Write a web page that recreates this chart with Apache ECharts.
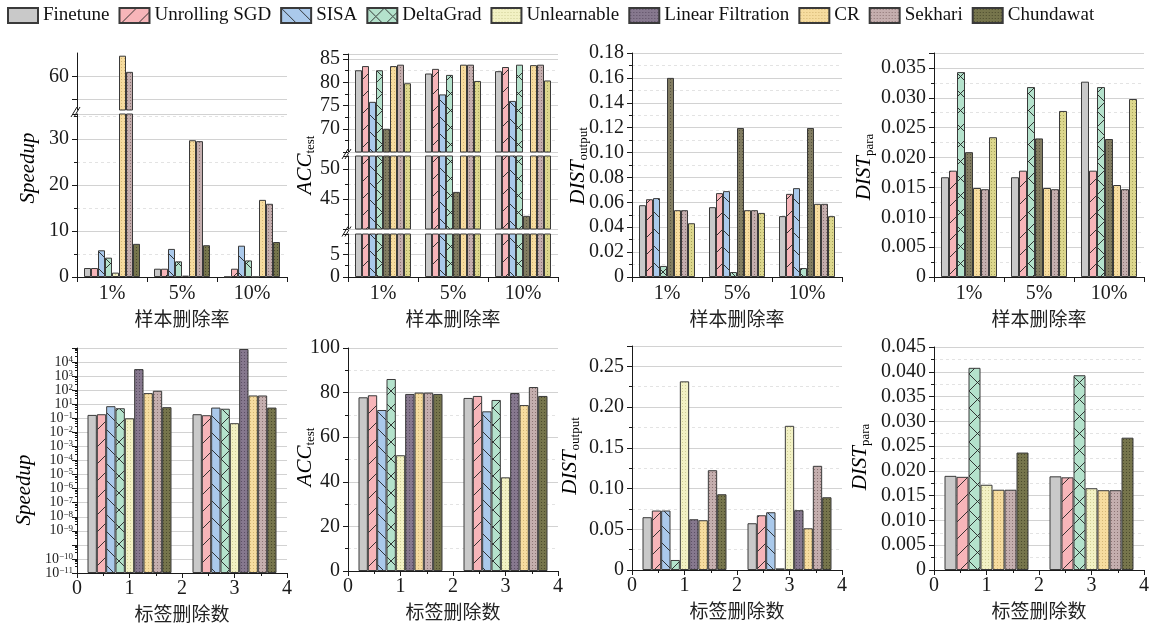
<!DOCTYPE html>
<html><head><meta charset="utf-8">
<script src="https://cdn.jsdelivr.net/npm/echarts@6.0.0/dist/echarts.min.js"></script>
<style>html,body{margin:0;padding:0;background:#fff}#c{width:1158px;height:627px}</style>
</head><body><div id="c"></div>
<script>
// ---------------- DATA ----------------
const LEGEND_NAMES = ['Finetune','Unrolling SGD','SISA','DeltaGrad','Unlearnable','Linear Filtration','CR','Sekhari','Chundawat'];
const SAMPLE_RATES = ['1%','5%','10%'];
const LABEL_COUNTS = ['1','3'];
const LABEL_AXIS_TICKS = [0,1,2,3,4];
// log-axis labels by exponent -11..5 as printed in the figure
const LOG_TICK_EXPONENTS = ['-11','-10','','-9','-8','-7','-6','-5','-4','-3','-2','-1','1','2','3','4',''];

// Speedup vs sample deletion rate
const speedupSampleSeries = ['Finetune','Unrolling SGD','SISA','DeltaGrad','Unlearnable','CR','Sekhari','Chundawat'];
const speedupSampleValues = [
  [1.95, 1.8, 0.05],
  [1.95, 1.8, 1.8],
  [5.8, 6.1, 6.8],
  [4.2, 3.4, 3.6],
  [0.95, 0.3, 0.05],
  [64.6, 29.7, 16.75],
  [61.0, 29.5, 15.9],
  [7.2, 6.9, 7.6]
];
// ACC_test vs sample deletion rate
const accSampleSeries = ['Finetune','Unrolling SGD','SISA','DeltaGrad','Unlearnable','CR','Sekhari','Chundawat'];
const accSampleValues = [
  [82.6, 81.9, 82.4],
  [83.5, 82.9, 83.3],
  [75.8, 77.4, 76.0],
  [82.6, 81.6, 83.8],
  [70.0, 46.2, 42.2],
  [83.5, 83.8, 83.7],
  [83.8, 83.8, 83.8],
  [79.8, 80.3, 80.4]
];
// DIST_output vs sample deletion rate
const distOutSampleSeries = ['Finetune','Unrolling SGD','SISA','DeltaGrad','Unlearnable','CR','Sekhari','Chundawat'];
const distOutSampleValues = [
  [0.0577, 0.0561, 0.0489],
  [0.0625, 0.0674, 0.0668],
  [0.0634, 0.0690, 0.0714],
  [0.0089, 0.0040, 0.0072],
  [0.1600, 0.1197, 0.1197],
  [0.0537, 0.0537, 0.0588],
  [0.0537, 0.0537, 0.0588],
  [0.0432, 0.0515, 0.0489]
];
// DIST_para vs sample deletion rate
const distParaSampleSeries = ['Finetune','Unrolling SGD','DeltaGrad','Unlearnable','CR','Sekhari','Chundawat'];
const distParaSampleValues = [
  [0.0167, 0.0167, 0.0327],
  [0.0178, 0.0178, 0.0178],
  [0.0343, 0.0318, 0.0318],
  [0.0209, 0.0232, 0.0231],
  [0.0149, 0.0149, 0.0154],
  [0.0147, 0.0147, 0.0147],
  [0.0234, 0.0278, 0.0298]
];
// Speedup vs label deletion count (log)
const speedupLabelSeries = ['Finetune','Unrolling SGD','SISA','DeltaGrad','Unlearnable','Linear Filtration','CR','Sekhari','Chundawat'];
const speedupLabelValues = [
  [1.75, 1.95],
  [1.95, 1.66],
  [7.3, 5.8],
  [5.2, 4.8],
  [1.0, 0.45],
  [3150, 85000],
  [62, 42],
  [91, 42],
  [6.2, 5.8]
];
// ACC_test vs label deletion count
const accLabelSeries = ['Finetune','Unrolling SGD','SISA','DeltaGrad','Unlearnable','Linear Filtration','CR','Sekhari','Chundawat'];
const accLabelValues = [
  [77.9, 77.6],
  [78.8, 78.5],
  [72.2, 71.6],
  [86.1, 76.7],
  [51.9, 42.0],
  [79.4, 79.8],
  [80.0, 74.4],
  [80.0, 82.5],
  [79.4, 78.5]
];
// DIST_output vs label deletion count
const distOutLabelSeries = ['Finetune','Unrolling SGD','SISA','DeltaGrad','Unlearnable','Linear Filtration','CR','Sekhari','Chundawat'];
const distOutLabelValues = [
  [0.0648, 0.0574],
  [0.0730, 0.0672],
  [0.0730, 0.0709],
  [0.0123, 0.0020],
  [0.2316, 0.1770],
  [0.0623, 0.0734],
  [0.0611, 0.0512],
  [0.1225, 0.1279],
  [0.0930, 0.0893]
];
// DIST_para vs label deletion count
const distParaLabelSeries = ['Finetune','Unrolling SGD','DeltaGrad','Unlearnable','CR','Sekhari','Chundawat'];
const distParaLabelValues = [
  [0.0190, 0.0189],
  [0.0188, 0.0187],
  [0.0408, 0.0393],
  [0.0172, 0.0165],
  [0.0162, 0.0161],
  [0.0162, 0.0161],
  [0.0237, 0.0267]
];

// ---------------- STYLES ----------------
const SERIF = "'Liberation Serif', serif";
const CJK = "'Noto Sans CJK SC', sans-serif";
const INK = '#1a1a1a';
const STYLE = {
  'Finetune':          {bg:'#c9c9c9', kind:'solid'},
  'Unrolling SGD':     {bg:'#f7b5b9', kind:'fwd'},
  'SISA':              {bg:'#aac9eb', kind:'back'},
  'DeltaGrad':         {bg:'#b4e2cc', kind:'cross'},
  'Unlearnable':       {bg:'#f2f1c4', kind:'dots', dot:'#cfcd96'},
  'Linear Filtration': {bg:'#86788e', kind:'dots', dot:'#5c4e64'},
  'CR':                {bg:'#f6dc9f', kind:'dots', dot:'#d3b573'},
  'Sekhari':           {bg:'#c4aeae', kind:'dots', dot:'#8c7373'},
  'Chundawat':         {bg:'#76754c', kind:'dots', dot:'#4b4a2c'},
  'altDark':           {bg:'#817c61', kind:'dots', dot:'#58543e'},
  'altYellow':         {bg:'#dcd78d', kind:'dots', dot:'#a9a45d'}
};
function makeFill(st) {
  if (st.kind === 'solid') return st.bg;
  const s = st.kind === 'dots' ? 3 : 17;
  const c = document.createElement('canvas'); c.width = s; c.height = s;
  const g = c.getContext('2d');
  g.fillStyle = st.bg; g.fillRect(0, 0, s, s);
  g.strokeStyle = '#222'; g.lineWidth = 0.9;
  const line = (x1, y1, x2, y2) => { g.beginPath(); g.moveTo(x1, y1); g.lineTo(x2, y2); g.stroke(); };
  if (st.kind === 'fwd' || st.kind === 'cross') { line(-2, s + 2, s + 2, -2); line(-2, 2, 2, -2); line(s - 2, s + 2, s + 2, s - 2); }
  if (st.kind === 'back' || st.kind === 'cross') { line(-2, -2, s + 2, s + 2); line(s - 2, -2, s + 2, 2); line(-2, s - 2, 2, s + 2); }
  if (st.kind === 'dots') { g.fillStyle = st.dot; g.fillRect(1, 1, 1, 1); }
  return { image: c, repeat: 'repeat' };
}
const FILL = {};
Object.keys(STYLE).forEach(k => FILL[k] = makeFill(STYLE[k]));

const fmtFixed = d => v => (v === 0 ? '0' : v.toFixed(d));
const logFmt = v => {
  const e = Math.round(Math.log10(v));
  const t = LOG_TICK_EXPONENTS[e + 11];
  return t ? '{b|10}{p|' + t.replace('-', '\u2212') + '}' : '';
};

// ---------------- PANELS (layout) ----------------
const PANELS = [
  { left:77, width:210, cats:SAMPLE_RATES, names:speedupSampleSeries, values:speedupSampleValues, xName:'样本删除率',
    segs:[ {top:114, height:163, min:0, max:35.4, interval:10, hideMax:true},
           {top:53, height:57, min:52.5, max:65.2, interval:2.5, labels:[60], ticks:[55,60], minor:false} ],
    breaks:[112] },
  { left:348, width:210, cats:SAMPLE_RATES, names:accSampleSeries, values:accSampleValues, xName:'样本删除率',
    styles:['Finetune','Unrolling SGD','SISA','DeltaGrad','altDark','CR','Sekhari','altYellow'],
    segs:[ {top:234, height:43, min:0, max:9.5, interval:5, hideMax:true},
           {top:156, height:73, min:40, max:52.2, interval:5, hideMin:true, hideMax:true},
           {top:54, height:98, min:65, max:86.1, interval:5, hideMin:true, hideMax:true} ],
    breaks:[154, 231.5] },
  { left:632, width:210, cats:SAMPLE_RATES, names:distOutSampleSeries, values:distOutSampleValues, xName:'样本删除率',
    styles:['Finetune','Unrolling SGD','SISA','DeltaGrad','altDark','CR','Sekhari','altYellow'],
    segs:[ {top:53, height:224, min:0, max:0.18, interval:0.02, fmt:fmtFixed(2)} ] },
  { left:934, width:210, cats:SAMPLE_RATES, names:distParaSampleSeries, values:distParaSampleValues, xName:'样本删除率',
    styles:['Finetune','Unrolling SGD','DeltaGrad','altDark','CR','Sekhari','altYellow'],
    segs:[ {top:53, height:224, min:0, max:0.0375, interval:0.005, fmt:fmtFixed(3), hideMax:true} ] },
  { left:77, width:210, cats:LABEL_COUNTS, names:speedupLabelSeries, values:speedupLabelValues, xName:'标签删除数', valueX:true,
    segs:[ {top:348, height:225, min:1e-11, max:1e5, log:true} ] },
  { left:348, width:210, cats:LABEL_COUNTS, names:accLabelSeries, values:accLabelValues, xName:'标签删除数', valueX:true,
    segs:[ {top:348, height:223, min:0, max:100, interval:20} ] },
  { left:632, width:210, cats:LABEL_COUNTS, names:distOutLabelSeries, values:distOutLabelValues, xName:'标签删除数', valueX:true,
    segs:[ {top:346, height:224, min:0, max:0.275, interval:0.05, fmt:fmtFixed(2), hideMax:true} ] },
  { left:934, width:210, cats:LABEL_COUNTS, names:distParaLabelSeries, values:distParaLabelValues, xName:'标签删除数', valueX:true,
    segs:[ {top:347, height:223, min:0, max:0.045, interval:0.005, fmt:fmtFixed(3)} ] }
];

const Y_NAMES = [
  {x:28, y:168, text:'{m|Speedup}'},
  {x:305, y:165, text:'{m|ACC}{s|test}'},
  {x:578, y:166, text:'{m|DIST}{s|output}'},
  {x:864, y:167, text:'{m|DIST}{s|para}'},
  {x:24, y:490, text:'{m|Speedup}'},
  {x:305, y:457, text:'{m|ACC}{s|test}'},
  {x:570, y:456, text:'{m|DIST}{s|output}'},
  {x:860, y:457, text:'{m|DIST}{s|para}'}
];

// ---------------- BUILD OPTION ----------------
const grids = [], xAxes = [], yAxes = [], series = [], graphics = [];
const axisLineStyle = {color: INK, width: 1};
const lbl = (extra) => Object.assign({fontFamily: SERIF, fontSize: 20, color: INK}, extra || {});

PANELS.forEach(p => {
  p.segs.forEach((s, si) => {
    const gi = grids.length;
    grids.push({left: p.left, width: p.width, top: s.top, height: s.height, containLabel: false, outerBoundsMode: 'none'});
    const isLowest = si === 0;
    const xi = xAxes.length;
    const showCat = isLowest && !p.valueX;
    xAxes.push({
      type: 'category', gridIndex: gi, data: p.cats, show: showCat, position: 'bottom',
      axisLine: {show: true, onZero: false, lineStyle: axisLineStyle},
      axisTick: {show: true, length: 5, lineStyle: axisLineStyle},
      axisLabel: lbl({margin: 7}),
      name: showCat ? p.xName : '', nameLocation: 'middle', nameGap: 32,
      nameTextStyle: {fontFamily: CJK, fontSize: 19, color: '#222', lineHeight: 20}
    });
    if (isLowest && p.valueX) {
      xAxes.push({
        type: 'value', gridIndex: gi, position: 'bottom', offset: 0,
        min: LABEL_AXIS_TICKS[0], max: LABEL_AXIS_TICKS[LABEL_AXIS_TICKS.length - 1], interval: 1,
        axisLine: {show: true, onZero: false, lineStyle: axisLineStyle},
        axisTick: {show: true, length: 5, lineStyle: axisLineStyle},
        minorTick: {show: true, splitNumber: 2, length: 3, lineStyle: axisLineStyle},
        splitLine: {show: false},
        axisLabel: lbl({margin: 6}),
        name: p.xName, nameLocation: 'middle', nameGap: 31,
        nameTextStyle: {fontFamily: CJK, fontSize: 19, color: '#222', lineHeight: 20}
      });
    }
    const yi = yAxes.length;
    const y = {
      type: s.log ? 'log' : 'value', gridIndex: gi, min: s.min, max: s.max,
      axisLine: {show: true, onZero: false, lineStyle: axisLineStyle},
      axisTick: {show: true, length: 5, lineStyle: axisLineStyle},
      minorTick: {show: s.minor !== false, splitNumber: s.log ? 5 : 2, length: s.log ? 2 : 3, lineStyle: axisLineStyle},
      axisLabel: lbl({margin: 8}),
      splitLine: {show: true, lineStyle: {color: '#d2d2d2', width: 1}},
      minorSplitLine: {show: s.minor !== false && !s.log, lineStyle: {color: '#e3e3e3', width: 1, type: [3, 3]}}
    };
    if (s.log) {
      y.logBase = 10; y.splitNumber = 16; y.interval = 1; y.startValue = s.min;
      y.axisLabel.formatter = logFmt;
      y.axisLabel.margin = 4;
      y.axisLabel.rich = {
        b: {fontFamily: SERIF, fontSize: 14, color: INK},
        p: {fontFamily: SERIF, fontSize: 9, color: INK, verticalAlign: 'top', lineHeight: 10}
      };
    } else {
      y.interval = s.interval;
    }
    if (s.fmt) y.axisLabel.formatter = s.fmt;
    if (s.hideMin) y.axisLabel.showMinLabel = false;
    if (s.hideMax) y.axisLabel.showMaxLabel = false;
    if (s.labels) y.axisLabel.customValues = s.labels;
    if (s.ticks) y.axisTick.customValues = s.ticks;
    yAxes.push(y);

    p.names.forEach((nm, k) => {
      const sk = p.styles ? p.styles[k] : nm;
      series.push({
        type: 'bar', name: nm, xAxisIndex: xi, yAxisIndex: yi, data: p.values[k],
        barGap: '0%', barCategoryGap: '20%',
        itemStyle: {color: FILL[sk], borderColor: '#3a3a3a', borderWidth: 1},
        emphasis: {disabled: true}, silent: true, animation: false
      });
    });
  });
  (p.breaks || []).forEach(by => {
    const ax = p.left;
    [[-6, -1], [-3, 2]].forEach(([d1, d2]) => {
      graphics.push({type: 'line', silent: true,
        shape: {x1: ax + d1, y1: by + 5, x2: ax + d2 + 1, y2: by - 5},
        style: {stroke: INK, lineWidth: 1}});
    });
  });
});

const richName = {
  m: {fontFamily: SERIF, fontStyle: 'italic', fontSize: 21, color: '#111', lineHeight: 24},
  s: {fontFamily: SERIF, fontSize: 13, color: '#111', verticalAlign: 'bottom', lineHeight: 14}
};
Y_NAMES.forEach(n => {
  graphics.push({type: 'text', x: n.x, y: n.y, rotation: Math.PI / 2, silent: true,
    style: {text: n.text, rich: richName, align: 'center', verticalAlign: 'middle',
            textAlign: 'center', textVerticalAlign: 'middle'}});
});

const option = {
  backgroundColor: '#fff',
  animation: false,
  textStyle: {fontFamily: SERIF},
  legend: {
    data: LEGEND_NAMES, left: 7, top: 6, padding: 0, icon: 'rect',
    itemWidth: 30, itemHeight: 15, itemGap: 9, selectedMode: false,
    textStyle: {fontFamily: SERIF, fontSize: 19, color: '#111'}
  },
  grid: grids, xAxis: xAxes, yAxis: yAxes, series: series,
  graphic: graphics
};
const chart = echarts.init(document.getElementById('c'), null, {renderer: 'canvas', width: 1158, height: 627});
chart.setOption(option);
</script></body></html>
